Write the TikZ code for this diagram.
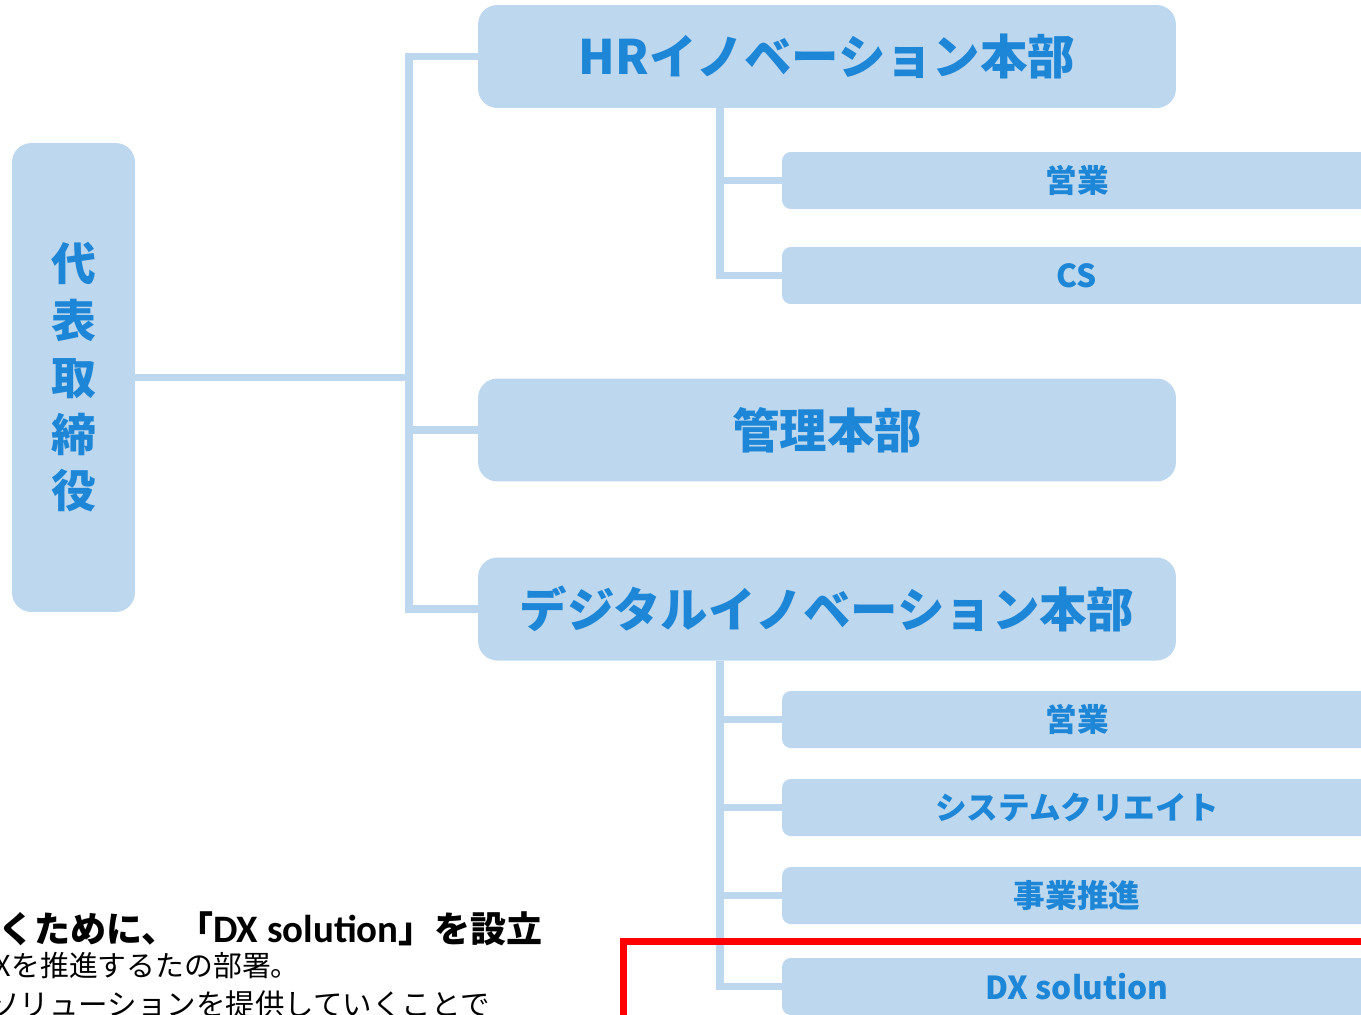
\documentclass[tikz,border=0pt]{standalone}
\usepackage{fontspec}
\setmainfont{Noto Sans CJK JP}
\newfontfamily\calibrifont[Scale=1.08]{Carlito}
\definecolor{boxfill}{HTML}{BDD7EE}
\definecolor{deptblue}{HTML}{1E86D6}
\definecolor{frame}{HTML}{FF0000}

\begin{document}
\begin{tikzpicture}[x=0.02cm, y=-0.02cm,
	box/.style={fill=boxfill, text=deptblue, inner sep=0pt},
	head/.style={box, minimum width=13.96cm, minimum height=2.06cm, rounded corners=11pt, font=\bfseries\fontsize{27}{32}\selectfont},
	unit/.style={box, minimum width=11.8cm, minimum height=1.14cm, rounded corners=5pt, font=\bfseries\fontsize{18}{21}\selectfont},
	link/.style={draw=boxfill, line width=4pt},
	note/.style={anchor=east, inner sep=0pt, text=black}]
			\useasboundingbox (0,0) rectangle (1361,1014);
			\clip (0,0) rectangle (1361,1014);
			
			%%%%% BOXES %%%%%
			
			\node[box, minimum width=2.46cm, minimum height=9.38cm, rounded corners=11pt, align=center, font=\bfseries\fontsize{25.5}{32.3}\selectfont] (ceo) at (73.5,377.5) {代\\表\\取\\締\\役};
			
			\node[head] (hr) at (827,56.5) {HRイノベーション本部};
			\node[head] (kanri) at (827,430) {管理本部};
			\node[head] (digital) at (827,609) {デジタルイノベーション本部};
			
			\node[unit] (hrsales) at (1077,180.5) {営業};
			\node[unit] (hrcs) at (1077,275.5) {CS};
			
			\node[unit] (dsales) at (1077,719.5) {営業};
			\node[unit] (dsys) at (1077,807.5) {システムクリエイト};
			\node[unit] (dbiz) at (1077,895.5) {事業推進};
			\node[unit] (dxsol) at (1077,986.5) {DX solution};
			
			%%%%% LINKS %%%%%
			
			\coordinate (trunk) at (409,377.5);
			\draw[link] (ceo.east) -- (trunk);
			\draw[link] (hr.west) -| (trunk) |- (digital.west);
			\draw[link] (trunk |- kanri.west) -- (kanri.west);
			
			\coordinate (hrbus) at (720,108);
			\draw[link] (hrbus) |- (hrcs.west);
			\draw[link] (hrbus |- hrsales.west) -- (hrsales.west);
			
			\coordinate (dbus) at (720,661);
			\draw[link] (dbus) |- (dxsol.west);
			\foreach \n in {dsales,dsys,dbiz}
				\draw[link] (dbus |- \n.west) -- (\n.west);
			
			%%%%% NOTE %%%%%
			
			\node[note, font=\bfseries\fontsize{20.5}{24}\selectfont] (note1) at (543,929) {くために、「{\calibrifont DX solution}」を設立};
			\node[note, font=\fontsize{16.4}{20}\selectfont] (note2) at (300,966) {Xを推進するたの部署。};
			\node[note, font=\fontsize{16.8}{20}\selectfont] (note3) at (490,1004) {ソリューションを提供していくことで};
			
			\draw[frame, line width=4pt] (623.5,941.5) rectangle (1450,1100);
			
			%%%%% END %%%%%
\end{tikzpicture}
\end{document}
